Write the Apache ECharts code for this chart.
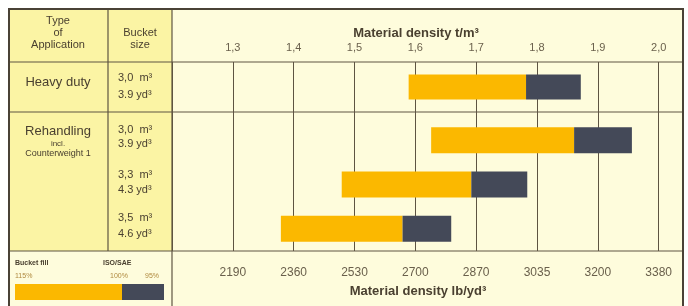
<!DOCTYPE html>
<html>
<head>
<meta charset="utf-8">
<script src="https://cdn.jsdelivr.net/npm/echarts@6/dist/echarts.min.js"></script>
<style>
  html, body { margin: 0; padding: 0; background: #fff; }
  #chart { width: 688px; height: 306px; }
</style>
</head>
<body>
<div id="chart"></div>
<script>
// bucket / material density table
var rows = ['Heavy duty 3,0', 'Rehandling 3,0', 'Rehandling 3,3', 'Rehandling 3,5'];
var fill115 = [1.589, 1.626, 1.479, 1.379];   // t/m3 at 115% bucket fill
var fill100 = [1.782, 1.861, 1.692, 1.579];   // at 100% (ISO/SAE)
var fill95 = [1.872, 1.956, 1.784, 1.659];    // at 95%
var metricTicks = ['1,3', '1,4', '1,5', '1,6', '1,7', '1,8', '1,9', '2,0'];
var imperialTicks = ['2190', '2360', '2530', '2700', '2870', '3035', '3200', '3380'];

var FONT = '"Liberation Sans", Arial, sans-serif';
var INK = '#4a4030';
var LINE = '#5e5442';
var YEL = '#fbb800';
var DARK = '#444958';

function tickLabel(list) {
  return function (v) {
    var i = Math.round((v - 1.3) / 0.1);
    if (i < 0 || i >= list.length || Math.abs(v - (1.3 + i * 0.1)) > 0.001) return '';
    return list[i];
  };
}

function diff(a, b) {
  return a.map(function (v, i) { return +(v - b[i]).toFixed(3); });
}

var yellowPart = diff(fill100, fill115);
var darkPart = diff(fill95, fill100);

function txt(t, x, y, size, opt) {
  opt = opt || {};
  return {
    type: 'text', z: 50,
    style: {
      text: t, x: x, y: y,
      fontSize: size, fontFamily: FONT,
      fontWeight: opt.bold ? 'bold' : 'normal',
      fill: opt.color || INK,
      align: opt.align || 'left', verticalAlign: 'middle',
      textAlign: opt.align || 'left', textVerticalAlign: 'middle'
    }
  };
}
function ln(x1, y1, x2, y2, w) {
  return { type: 'line', z: 60, shape: { x1: x1, y1: y1, x2: x2, y2: y2 }, style: { stroke: LINE, lineWidth: w || 1.2 } };
}
function box(x, y, w, h, c, z) {
  return { type: 'rect', z: z || -10, shape: { x: x, y: y, width: w, height: h }, style: { fill: c } };
}

var graphics = [
  box(9, 9, 674, 300, '#fefcdc'),
  box(9, 9, 163, 242, '#fbf4a4'),
  // legend key
  box(15, 284, 107, 16, YEL, 40),
  box(122, 284, 42, 16, DARK, 40),
  txt('Bucket fill', 15, 263, 7, { bold: true }),
  txt('ISO/SAE', 103, 263, 7, { bold: true }),
  txt('115%', 15, 276, 7, { color: '#b08a40' }),
  txt('100%', 110, 276, 7, { color: '#b08a40' }),
  txt('95%', 145, 276, 7, { color: '#b08a40' }),
  // header
  txt('Type', 58, 21, 11, { align: 'center' }),
  txt('of', 58, 33, 11, { align: 'center' }),
  txt('Application', 58, 45, 11, { align: 'center' }),
  txt('Bucket', 140, 33, 11, { align: 'center' }),
  txt('size', 140, 45, 11, { align: 'center' }),
  txt('Material density t/m³', 416, 33, 13, { bold: true, align: 'center' }),
  txt('Material density lb/yd³', 418, 291, 13, { bold: true, align: 'center' }),
  // rows
  txt('Heavy duty', 58, 82, 13, { align: 'center' }),
  txt('3,0  m³', 118, 78, 11),
  txt('3.9 yd³', 118, 95, 11),
  txt('Rehandling', 58, 131, 13, { align: 'center' }),
  txt('incl.', 58, 144, 8, { align: 'center' }),
  txt('Counterweight 1', 58, 154, 9, { align: 'center' }),
  txt('3,0  m³', 118, 130, 11),
  txt('3.9 yd³', 118, 144, 11),
  txt('3,3  m³', 118, 175, 11),
  txt('4.3 yd³', 118, 190, 11),
  txt('3,5  m³', 118, 218, 11),
  txt('4.6 yd³', 118, 234, 11),
  // table lines
  ln(9, 62, 683, 62),
  ln(9, 112, 683, 112),
  ln(9, 251, 683, 251),
  ln(108, 9, 108, 251),
  ln(172, 9, 172, 310),
  { type: 'rect', z: 70, shape: { x: 9, y: 9, width: 674, height: 310 }, style: { fill: 'none', stroke: '#4a4236', lineWidth: 2 } }
];

var xBase = { type: 'value', min: 1.2, max: 2.04, interval: 0.1 };

var chart = echarts.init(document.getElementById('chart'));
chart.setOption({
  animation: false,
  backgroundColor: '#fff',
  graphic: graphics,
  grid: [
    { left: 172, right: 5, top: 62, bottom: 55 },
    { left: 172, right: 5, top: 62, bottom: 194 },
    { left: 172, right: 5, top: 118, bottom: 55 }
  ],
  xAxis: [
    Object.assign({}, xBase, {
      gridIndex: 0, position: 'top',
      axisLine: { show: false }, axisTick: { show: false },
      axisLabel: { margin: 9, fontSize: 11, fontFamily: FONT, color: '#6a604c', formatter: tickLabel(metricTicks) },
      splitLine: { show: true, lineStyle: { color: LINE, width: 1 } }
    }),
    Object.assign({}, xBase, {
      gridIndex: 0, position: 'bottom',
      axisLine: { show: false }, axisTick: { show: false },
      axisLabel: { margin: 16, fontSize: 12, fontFamily: FONT, color: '#6a604c', formatter: tickLabel(imperialTicks) },
      splitLine: { show: false }
    }),
    Object.assign({}, xBase, { gridIndex: 1, show: false }),
    Object.assign({}, xBase, { gridIndex: 2, show: false })
  ],
  yAxis: [
    { type: 'value', gridIndex: 0, show: false },
    { type: 'category', gridIndex: 1, show: false, data: rows.slice(0, 1) },
    { type: 'category', gridIndex: 2, show: false, inverse: true, data: rows.slice(1) }
  ],
  series: [
    { type: 'bar', xAxisIndex: 2, yAxisIndex: 1, stack: 'hd', barWidth: 25, itemStyle: { color: 'transparent' }, data: fill115.slice(0, 1) },
    { type: 'bar', xAxisIndex: 2, yAxisIndex: 1, stack: 'hd', barWidth: 25, itemStyle: { color: YEL }, data: yellowPart.slice(0, 1) },
    { type: 'bar', xAxisIndex: 2, yAxisIndex: 1, stack: 'hd', barWidth: 25, itemStyle: { color: DARK }, data: darkPart.slice(0, 1) },
    { type: 'bar', xAxisIndex: 3, yAxisIndex: 2, stack: 'rh', barWidth: 26, itemStyle: { color: 'transparent' }, data: fill115.slice(1) },
    { type: 'bar', xAxisIndex: 3, yAxisIndex: 2, stack: 'rh', barWidth: 26, itemStyle: { color: YEL }, data: yellowPart.slice(1) },
    { type: 'bar', xAxisIndex: 3, yAxisIndex: 2, stack: 'rh', barWidth: 26, itemStyle: { color: DARK }, data: darkPart.slice(1) }
  ]
});
</script>
</body>
</html>
